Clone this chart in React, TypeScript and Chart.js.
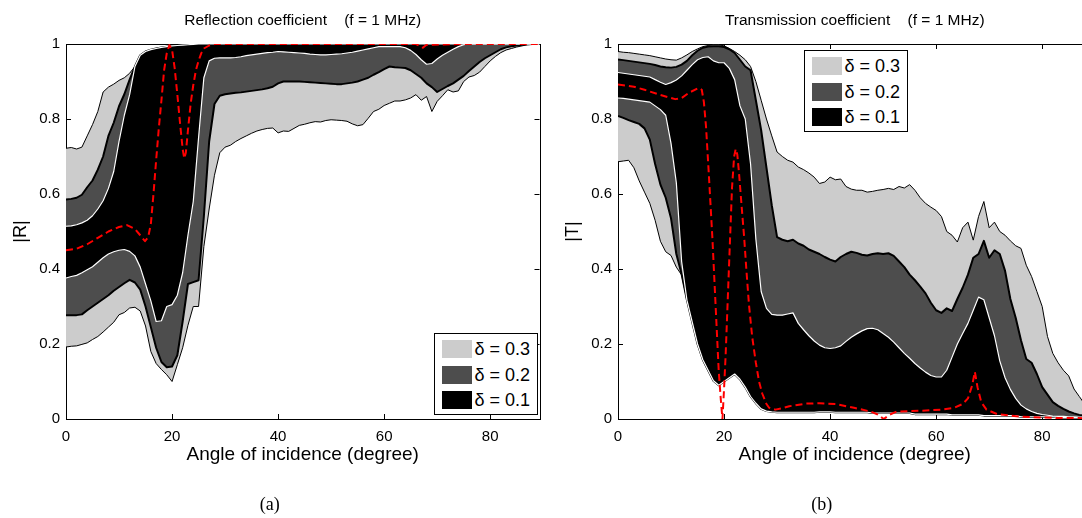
import React, { useEffect, useRef } from 'react';
import { Chart, registerables } from 'chart.js';

Chart.register(...registerables);
Chart.defaults.font.family = "'Liberation Sans', Arial, Helvetica, sans-serif";
Chart.defaults.color = '#000';

// ---------- data ----------
const angles = [
  0, 1, 2, 3, 4, 5, 6, 7, 8, 9, 10, 11, 12, 13, 14, 15, 16, 17, 18, 19,
  20, 21, 22, 23, 24, 25, 26, 27, 28, 29, 30, 31, 32, 33, 34, 35, 36, 37, 38, 39,
  40, 41, 42, 43, 44, 45, 46, 47, 48, 49, 50, 51, 52, 53, 54, 55, 56, 57, 58, 59,
  60, 61, 62, 63, 64, 65, 66, 67, 68, 69, 70, 71, 72, 73, 74, 75, 76, 77, 78, 79,
  80, 81, 82, 83, 84, 85, 86, 87, 88, 89, 89.3,
];

const xTickValues = [0, 20, 40, 60, 80];
const xTickLabels = ['0', '20', '40', '60', '80'];
const yTickValues = [0, 0.2, 0.4, 0.6, 0.8, 1];
const yTickLabels = ['0', '0.2', '0.4', '0.6', '0.8', '1'];

const legendLabels = ['\u03b4 = 0.3', '\u03b4 = 0.2', '\u03b4 = 0.1'];

// Reflection |R|
const R_lo03 = [
  0.192, 0.194, 0.195, 0.199, 0.203, 0.212, 0.22, 0.232, 0.245, 0.258,
  0.278, 0.284, 0.296, 0.298, 0.288, 0.248, 0.18, 0.148, 0.132, 0.118,
  0.1, 0.145, 0.19, 0.25, 0.3, 0.3, 0.46, 0.56, 0.65, 0.71,
  0.725, 0.73, 0.74, 0.748, 0.755, 0.762, 0.768, 0.772, 0.775, 0.776,
  0.763, 0.768, 0.767, 0.775, 0.783, 0.786, 0.79, 0.793, 0.792, 0.796,
  0.798, 0.797, 0.796, 0.794, 0.787, 0.782, 0.785, 0.802, 0.82, 0.826,
  0.836, 0.842, 0.848, 0.848, 0.851, 0.856, 0.865, 0.85, 0.86, 0.82,
  0.847, 0.862, 0.878, 0.872, 0.875, 0.9, 0.912, 0.916, 0.925, 0.94,
  0.955, 0.967, 0.977, 0.984, 0.988, 0.992, 0.995, 0.998, 0.999, 1.0,
  1.0,
];
const R_lo02 = [
  0.277, 0.277, 0.277, 0.279, 0.29, 0.3, 0.31, 0.32, 0.33, 0.342,
  0.352, 0.362, 0.371, 0.364, 0.345, 0.3, 0.245, 0.19, 0.152, 0.138,
  0.14, 0.17, 0.26, 0.36, 0.365, 0.37, 0.54, 0.74, 0.84, 0.862,
  0.866, 0.868, 0.87, 0.871, 0.873, 0.875, 0.877, 0.879, 0.882, 0.886,
  0.895, 0.9, 0.9, 0.9, 0.9, 0.899, 0.898, 0.897, 0.896, 0.895,
  0.894, 0.893, 0.893, 0.895, 0.897, 0.9, 0.905, 0.91, 0.918, 0.925,
  0.933, 0.94, 0.938, 0.937, 0.936, 0.93, 0.92, 0.91, 0.895, 0.885,
  0.872, 0.88, 0.888, 0.895, 0.905, 0.915, 0.928, 0.94, 0.952, 0.962,
  0.97, 0.978, 0.986, 0.991, 0.994, 0.996, 0.998, 0.999, 1.0, 1.0,
  1.0,
];
const R_lo01 = [
  0.376, 0.38, 0.383, 0.39, 0.398, 0.406, 0.418, 0.43, 0.44, 0.446,
  0.45, 0.452, 0.447, 0.435, 0.405, 0.36, 0.315, 0.26, 0.262, 0.3,
  0.305, 0.33, 0.39, 0.49, 0.58, 0.75, 0.91, 0.955, 0.962, 0.963,
  0.963, 0.963, 0.964, 0.966, 0.969, 0.971, 0.973, 0.975, 0.977, 0.978,
  0.98, 0.979, 0.978, 0.977, 0.976, 0.975, 0.973, 0.972, 0.971, 0.971,
  0.972, 0.973, 0.974, 0.976, 0.978, 0.981, 0.984, 0.987, 0.99, 0.993,
  0.993, 0.993, 0.993, 0.993, 0.99, 0.983, 0.972, 0.958, 0.946, 0.948,
  0.96, 0.97, 0.978, 0.986, 0.993, 0.998, 1, 1, 1, 1,
  1, 1, 1, 1, 1, 1, 1, 1, 1, 1,
  1,
];
const R_hi01 = [
  0.514, 0.515, 0.518, 0.523, 0.53, 0.542, 0.56, 0.582, 0.615, 0.66,
  0.74, 0.81, 0.865, 0.94, 0.97, 0.98, 0.985, 0.988, 0.991, 0.993,
  0.995, 0.996, 0.997, 0.998, 0.999, 1, 1, 1, 1, 1,
  1, 1, 1, 1, 1, 1, 1, 1, 1, 1,
  1, 1, 1, 1, 1, 1, 1, 1, 1, 1,
  1, 1, 1, 1, 1, 1, 1, 1, 1, 1,
  1, 1, 1, 1, 1, 1, 1, 1, 1, 1,
  1, 1, 1, 1, 1, 1, 1, 1, 1, 1,
  1, 1, 1, 1, 1, 1, 1, 1, 1, 1,
  1,
];
const R_hi02 = [
  0.585, 0.587, 0.59, 0.598, 0.618, 0.636, 0.665, 0.7, 0.755, 0.79,
  0.834, 0.866, 0.905, 0.94, 0.97, 0.98, 0.985, 0.988, 0.991, 0.993,
  0.995, 0.996, 0.997, 0.998, 0.999, 1, 1, 1, 1, 1,
  1, 1, 1, 1, 1, 1, 1, 1, 1, 1,
  1, 1, 1, 1, 1, 1, 1, 1, 1, 1,
  1, 1, 1, 1, 1, 1, 1, 1, 1, 1,
  1, 1, 1, 1, 1, 1, 1, 1, 1, 1,
  1, 1, 1, 1, 1, 1, 1, 1, 1, 1,
  1, 1, 1, 1, 1, 1, 1, 1, 1, 1,
  1,
];
const R_hi03 = [
  0.722, 0.724, 0.72, 0.725, 0.755, 0.785, 0.82, 0.872, 0.885, 0.893,
  0.903, 0.91, 0.922, 0.94, 0.97, 0.98, 0.985, 0.988, 0.991, 0.993,
  0.995, 0.996, 0.997, 0.998, 0.999, 1, 1, 1, 1, 1,
  1, 1, 1, 1, 1, 1, 1, 1, 1, 1,
  1, 1, 1, 1, 1, 1, 1, 1, 1, 1,
  1, 1, 1, 1, 1, 1, 1, 1, 1, 1,
  1, 1, 1, 1, 1, 1, 1, 1, 1, 1,
  1, 1, 1, 1, 1, 1, 1, 1, 1, 1,
  1, 1, 1, 1, 1, 1, 1, 1, 1, 1,
  1,
];
const R_nomAngles = [
  0, 2, 4, 6, 8, 10, 11.5, 13, 14, 14.9, 15.5, 16, 16.5, 17, 17.5, 18, 18.5, 19, 19.5, 20,
  20.5, 21, 21.5, 22, 22.3, 22.6, 23, 23.5, 24, 24.5, 25, 25.5, 26, 27, 28, 40, 50, 60, 66,
  66.6, 67.3, 68, 75, 89.3,
];
const R_nom = [
  0.45, 0.454, 0.466, 0.483, 0.5, 0.512, 0.517, 0.507, 0.49, 0.474, 0.485, 0.52, 0.6, 0.69,
  0.775, 0.85, 0.93, 0.975, 0.997, 0.985, 0.935, 0.865, 0.79, 0.72, 0.695, 0.71, 0.77, 0.84,
  0.89, 0.93, 0.955, 0.975, 0.988, 0.996, 1.0, 1.0, 1.0, 1.0, 1.0, 0.996, 0.99, 0.998, 1.0, 1.0,
];

// Transmission |T|
const T_lo03 = [
  0.686, 0.688, 0.69, 0.67, 0.635, 0.605, 0.575, 0.53, 0.474, 0.446,
  0.436, 0.405, 0.384, 0.317, 0.258, 0.2, 0.158, 0.13, 0.102, 0.09,
  0.1, 0.11, 0.12, 0.106, 0.085, 0.06, 0.042, 0.027, 0.021, 0.019,
  0.018, 0.018, 0.018, 0.018, 0.018, 0.018, 0.018, 0.018, 0.019, 0.019,
  0.019, 0.018, 0.018, 0.018, 0.018, 0.018, 0.018, 0.018, 0.016, 0.016,
  0.016, 0.016, 0.016, 0.016, 0.016, 0.016, 0.013, 0.013, 0.013, 0.013,
  0.013, 0.013, 0.013, 0.011, 0.011, 0.011, 0.011, 0.011, 0.011, 0.009,
  0.009, 0.009, 0.009, 0.009, 0.009, 0.009, 0.006, 0.006, 0.006, 0.006,
  0.006, 0.006, 0.006, 0.004, 0.004, 0.004, 0.004, 0.004, 0.004, 0.004,
  0.004,
];
const T_lo02 = [
  0.808, 0.803, 0.797, 0.792, 0.787, 0.775, 0.745, 0.68, 0.625, 0.59,
  0.535, 0.44, 0.386, 0.317, 0.258, 0.2, 0.158, 0.13, 0.102, 0.09,
  0.1, 0.11, 0.12, 0.106, 0.085, 0.06, 0.042, 0.027, 0.021, 0.019,
  0.018, 0.018, 0.018, 0.018, 0.018, 0.018, 0.018, 0.018, 0.019, 0.019,
  0.019, 0.018, 0.018, 0.018, 0.018, 0.018, 0.018, 0.018, 0.016, 0.016,
  0.016, 0.016, 0.016, 0.016, 0.016, 0.016, 0.013, 0.013, 0.013, 0.013,
  0.013, 0.013, 0.013, 0.011, 0.011, 0.011, 0.011, 0.011, 0.011, 0.009,
  0.009, 0.009, 0.009, 0.009, 0.009, 0.009, 0.006, 0.006, 0.006, 0.006,
  0.006, 0.006, 0.006, 0.004, 0.004, 0.004, 0.004, 0.004, 0.004, 0.004,
  0.004,
];
const T_lo01 = [
  0.856, 0.855, 0.853, 0.851, 0.849, 0.847, 0.845, 0.835, 0.825, 0.81,
  0.735, 0.63, 0.42, 0.317, 0.258, 0.2, 0.158, 0.13, 0.102, 0.09,
  0.1, 0.11, 0.12, 0.106, 0.085, 0.06, 0.042, 0.027, 0.021, 0.019,
  0.018, 0.018, 0.018, 0.018, 0.018, 0.018, 0.018, 0.018, 0.019, 0.019,
  0.019, 0.018, 0.018, 0.018, 0.018, 0.018, 0.018, 0.018, 0.016, 0.016,
  0.016, 0.016, 0.016, 0.016, 0.016, 0.016, 0.013, 0.013, 0.013, 0.013,
  0.013, 0.013, 0.013, 0.011, 0.011, 0.011, 0.011, 0.011, 0.011, 0.009,
  0.009, 0.009, 0.009, 0.009, 0.009, 0.009, 0.006, 0.006, 0.006, 0.006,
  0.006, 0.006, 0.006, 0.004, 0.004, 0.004, 0.004, 0.004, 0.004, 0.004,
  0.004,
];
const T_hi01 = [
  0.924, 0.922, 0.92, 0.918, 0.916, 0.914, 0.912, 0.905, 0.898, 0.892,
  0.897, 0.904, 0.915, 0.93, 0.945, 0.958, 0.964, 0.966, 0.955, 0.95,
  0.95, 0.935, 0.905, 0.835, 0.8, 0.68, 0.48, 0.34, 0.295, 0.279,
  0.277, 0.277, 0.28, 0.283, 0.255, 0.238, 0.222, 0.208, 0.197, 0.19,
  0.188, 0.19, 0.195, 0.207, 0.218, 0.227, 0.235, 0.241, 0.242, 0.238,
  0.228, 0.218, 0.205, 0.19, 0.175, 0.162, 0.148, 0.136, 0.125, 0.116,
  0.112, 0.112, 0.13, 0.165, 0.2, 0.228, 0.255, 0.29, 0.325, 0.318,
  0.27, 0.222, 0.155, 0.11, 0.079, 0.055, 0.037, 0.027, 0.02, 0.015,
  0.012, 0.01, 0.008, 0.007, 0.007, 0.006, 0.006, 0.005, 0.005, 0.005,
  0.005,
];
const T_hi02 = [
  0.959, 0.957, 0.955, 0.953, 0.951, 0.949, 0.947, 0.944, 0.94, 0.938,
  0.937, 0.939, 0.945, 0.955, 0.97, 0.982, 0.99, 0.993, 0.994, 0.994,
  0.992, 0.986, 0.976, 0.958, 0.94, 0.93, 0.85, 0.77, 0.67, 0.57,
  0.485, 0.478, 0.474, 0.478, 0.468, 0.462, 0.452, 0.446, 0.44, 0.432,
  0.425, 0.42, 0.432, 0.44, 0.446, 0.443, 0.438, 0.436, 0.44, 0.442,
  0.44, 0.442, 0.435, 0.42, 0.405, 0.385, 0.37, 0.353, 0.335, 0.31,
  0.29, 0.283, 0.295, 0.288, 0.32, 0.35, 0.385, 0.43, 0.44, 0.475,
  0.43, 0.45, 0.44, 0.395, 0.32, 0.27, 0.21, 0.16, 0.15, 0.12,
  0.085, 0.065, 0.045, 0.035, 0.027, 0.02, 0.015, 0.011, 0.009, 0.008,
  0.008,
];
const T_hi03 = [
  0.98, 0.978, 0.977, 0.975, 0.973, 0.971, 0.969, 0.966, 0.963, 0.96,
  0.958, 0.957, 0.963, 0.971, 0.98, 0.987, 0.993, 0.996, 0.998, 0.998,
  0.995, 0.988, 0.98, 0.97, 0.958, 0.94, 0.9, 0.85, 0.8, 0.755,
  0.712, 0.7, 0.69, 0.685, 0.672, 0.665, 0.656, 0.645, 0.628, 0.632,
  0.645, 0.638, 0.64, 0.62, 0.613, 0.61, 0.61, 0.605, 0.607, 0.61,
  0.612, 0.615, 0.612, 0.62, 0.616, 0.625, 0.61, 0.59, 0.575, 0.565,
  0.556, 0.54, 0.5, 0.49, 0.472, 0.51, 0.525, 0.477, 0.54, 0.58,
  0.51, 0.525, 0.5, 0.49, 0.475, 0.462, 0.455, 0.41, 0.38, 0.34,
  0.3, 0.22, 0.175, 0.15, 0.13, 0.115, 0.08, 0.06, 0.04, 0.025,
  0.02,
];
const T_nomAngles = [
  0, 3, 5, 8, 10.8, 12, 13.4, 15.2, 15.8, 16.2, 16.6, 17.1, 17.8, 18.4, 19, 19.4, 19.7, 20,
  20.3, 20.9, 21.5, 21.9, 22.2, 22.5, 22.8, 23.3, 23.8, 24.2, 24.7, 25.3, 26, 26.6, 27.2, 28,
  28.5, 29.7, 31, 32.3, 35.4, 38, 41, 44.5, 47.6, 49, 50.1, 51.3, 52.6, 57, 61, 63.4, 65, 66,
  66.8, 67.3, 67.8, 68.5, 69.5, 71.5, 75.9, 82.3, 89.3,
];
const T_nom = [
  0.892, 0.886, 0.878, 0.864, 0.853, 0.856, 0.87, 0.883, 0.878, 0.845, 0.78, 0.66, 0.483,
  0.305, 0.127, 0.05, 0.0, 0.08, 0.17, 0.394, 0.616, 0.7, 0.72, 0.705, 0.66, 0.57, 0.483, 0.4,
  0.305, 0.22, 0.15, 0.1, 0.068, 0.04, 0.03, 0.025, 0.029, 0.034, 0.041, 0.042, 0.04, 0.03,
  0.02, 0.012, 0.0, 0.012, 0.02, 0.022, 0.025, 0.03, 0.04, 0.055, 0.09, 0.126, 0.085, 0.045,
  0.025, 0.013, 0.006, 0.003, 0.002,
];

// ---------- styling ----------
const COLOR_03 = '#cccccc';
const COLOR_02 = '#4d4d4d';
const COLOR_01 = '#000000';
const legendColors = [COLOR_03, COLOR_02, COLOR_01];
const FONT = "'Liberation Sans', Arial, Helvetica, sans-serif";
const CANVAS_W = 552;
const CANVAS_H = 518;

const boxPlugin = {
  id: 'matlabBox',
  beforeDatasetsDraw(chart: any) {
    const { ctx, chartArea: a, scales } = chart;
    const L = 5;
    ctx.save();
    ctx.strokeStyle = '#000';
    ctx.lineWidth = 1;
    ctx.beginPath();
    for (const t of scales.x.ticks) {
      const px = Math.round(scales.x.getPixelForValue(t.value)) + 0.5;
      ctx.moveTo(px, a.bottom);
      ctx.lineTo(px, a.bottom - L);
      ctx.moveTo(px, a.top);
      ctx.lineTo(px, a.top + L);
    }
    for (const t of scales.y.ticks) {
      const py = Math.round(scales.y.getPixelForValue(t.value)) + 0.5;
      ctx.moveTo(a.left, py);
      ctx.lineTo(a.left + L, py);
      ctx.moveTo(a.right, py);
      ctx.lineTo(a.right - L, py);
    }
    ctx.stroke();
    ctx.strokeRect(Math.round(a.left) + 0.5, Math.round(a.top) + 0.5,
      Math.round(a.right) - Math.round(a.left), Math.round(a.bottom) - Math.round(a.top));
    ctx.restore();
  },
};

interface PanelProps {
  left: number;
  title: string;
  yLabel: string;
  caption: string;
  nomX: number[];
  nom: number[];
  hi01: number[];
  lo01: number[];
  hi02: number[];
  lo02: number[];
  hi03: number[];
  lo03: number[];
}

function pts(xs: number[], ys: number[]) {
  return xs.map((x, i) => ({ x, y: ys[i] }));
}

function Panel(p: PanelProps) {
  const ref = useRef<HTMLCanvasElement>(null);
  useEffect(() => {
    const base = { pointRadius: 0, pointHoverRadius: 0, tension: 0, borderJoinStyle: 'round' as const };
    const datasets: any[] = [
      { ...base, label: 'nominal', data: pts(p.nomX, p.nom), borderColor: '#ff0000', borderWidth: 2, borderDash: [7, 4], fill: false },
      { ...base, label: '0.1 upper', data: pts(angles, p.hi01), borderColor: '#ffffff', borderWidth: 1.2, fill: false },
      { ...base, label: '0.1 lower', data: pts(angles, p.lo01), borderColor: '#ffffff', borderWidth: 1.2, fill: false },
      { ...base, label: legendLabels[2], data: pts(angles, p.hi01), borderWidth: 0, borderColor: 'rgba(0,0,0,0)', backgroundColor: COLOR_01, fill: 2 },
      { ...base, label: '0.2 upper', data: pts(angles, p.hi02), borderColor: '#000000', borderWidth: 2, fill: false },
      { ...base, label: '0.2 lower', data: pts(angles, p.lo02), borderColor: '#000000', borderWidth: 2, fill: false },
      { ...base, label: legendLabels[1], data: pts(angles, p.hi02), borderWidth: 0, borderColor: 'rgba(0,0,0,0)', backgroundColor: COLOR_02, fill: 5 },
      { ...base, label: '0.3 upper', data: pts(angles, p.hi03), borderColor: '#000000', borderWidth: 1, fill: false },
      { ...base, label: '0.3 lower', data: pts(angles, p.lo03), borderColor: '#000000', borderWidth: 1, fill: false },
      { ...base, label: legendLabels[0], data: pts(angles, p.hi03), borderWidth: 0, borderColor: 'rgba(0,0,0,0)', backgroundColor: COLOR_03, fill: 8 },
    ];
    const chart = new Chart(ref.current!, {
      type: 'line',
      data: { datasets },
      options: {
        animation: false,
        responsive: false,
        maintainAspectRatio: false,
        events: [],
        layout: { padding: { left: 0, right: 12.5, top: 0, bottom: 0 } },
        plugins: {
          legend: { display: false },
          tooltip: { enabled: false },
          title: {
            display: true,
            fullSize: false,
            text: p.title,
            font: { family: FONT, size: 15.5, weight: 'normal' },
            color: '#000',
            padding: { top: 11, bottom: 14.4 },
          },
          subtitle: {
            display: true,
            text: p.caption,
            position: 'bottom',
            font: { family: "'Liberation Serif', 'Times New Roman', serif", size: 18, weight: 'normal' },
            color: '#000',
            padding: { top: 20.2, bottom: 2.2 },
          },
        },
        scales: {
          x: {
            type: 'linear',
            min: 0,
            max: 89.3,
            grid: { display: false, drawTicks: false },
            border: { display: false },
            afterBuildTicks: (s: any) => { s.ticks = xTickValues.map((v) => ({ value: v })); },
            afterFit: (s: any) => { s.height = 55; },
            ticks: {
              padding: 9,
              font: { family: FONT, size: 15 },
              color: '#000',
              maxRotation: 0,
              callback: (_v: any, i: number) => xTickLabels[i],
            },
            title: {
              display: true,
              text: 'Angle of incidence (degree)',
              font: { family: FONT, size: 19 },
              color: '#000',
              padding: { top: 0, bottom: 7.6 },
            },
          },
          y: {
            type: 'linear',
            min: 0,
            max: 1,
            grid: { display: false, drawTicks: false },
            border: { display: false },
            afterBuildTicks: (s: any) => { s.ticks = yTickValues.map((v) => ({ value: v })); },
            afterFit: (s: any) => { s.width = 66; },
            ticks: {
              padding: 6,
              font: { family: FONT, size: 15 },
              color: '#000',
              callback: (_v: any, i: number) => yTickLabels[i],
            },
            title: {
              display: true,
              text: p.yLabel,
              font: { family: FONT, size: 18 },
              color: '#000',
              padding: { top: 10, bottom: 0 },
            },
          },
        },
      },
      plugins: [boxPlugin],
    } as any);
    return () => chart.destroy();
  }, []);
  return (
    <canvas
      ref={ref}
      width={CANVAS_W}
      height={CANVAS_H}
      style={{ position: 'absolute', left: p.left, top: 0, width: CANVAS_W, height: CANVAS_H }}
    />
  );
}

function Legend({ left, top }: { left: number; top: number }) {
  return (
    <div
      style={{
        position: 'absolute', left, top, width: 104, height: 82, boxSizing: 'border-box',
        border: '1px solid #000', background: '#fff', fontFamily: FONT, fontSize: 18, color: '#000',
      }}
    >
      {legendLabels.map((lab, i) => (
        <div key={lab} style={{ position: 'absolute', left: 6.5, top: 5.7 + i * 25.8, height: 18, display: 'flex', alignItems: 'center', whiteSpace: 'nowrap' }}>
          <span style={{ display: 'inline-block', width: 30, height: 18, background: legendColors[i] }} />
          <span style={{ marginLeft: 3, lineHeight: '18px' }}>{lab}</span>
        </div>
      ))}
    </div>
  );
}

export default function App() {
  return (
    <div style={{ position: 'fixed', left: 0, top: 0, width: 1082, height: 518, overflow: 'hidden', background: '#fff' }}>
      <Panel
        left={0}
        title={'Reflection coefficient    (f = 1 MHz)'}
        yLabel="|R|"
        caption="(a)"
        nomX={R_nomAngles}
        nom={R_nom}
        hi01={R_hi01}
        lo01={R_lo01}
        hi02={R_hi02}
        lo02={R_lo02}
        hi03={R_hi03}
        lo03={R_lo03}
      />
      <Panel
        left={552}
        title={'Transmission coefficient    (f = 1 MHz)'}
        yLabel="|T|"
        caption="(b)"
        nomX={T_nomAngles}
        nom={T_nom}
        hi01={T_hi01}
        lo01={T_lo01}
        hi02={T_hi02}
        lo02={T_lo02}
        hi03={T_hi03}
        lo03={T_lo03}
      />
      <Legend left={434} top={333} />
      <Legend left={804} top={50} />
    </div>
  );
}
